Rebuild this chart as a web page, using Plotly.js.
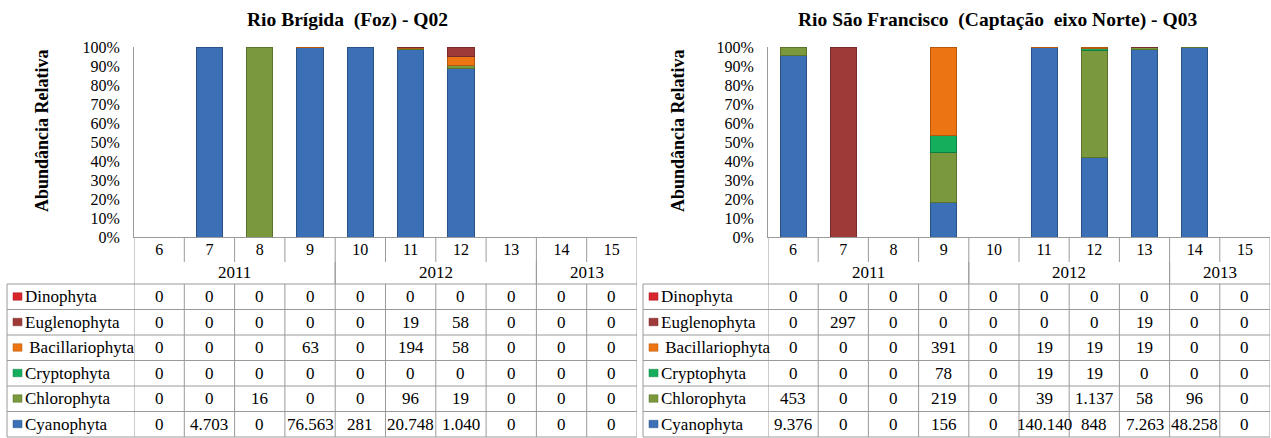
<!DOCTYPE html>
<html>
<head>
<meta charset="utf-8">
<script src="https://cdn.plot.ly/plotly-3.0.1.min.js"></script>
<style>
html,body{margin:0;padding:0;background:#fff;}
#chart{width:1271px;height:438px;}
</style>
</head>
<body>
<div id="chart"></div>
<script>
// ---------- DATA ----------
const categories = [6, 7, 8, 9, 10, 11, 12, 13, 14, 15];
const years = ['2011', '2012', '2013'];
const yearFirst = [6, 10, 14];
const yearLast = [9, 13, 15];

const groups = ['Dinophyta', 'Euglenophyta', 'Bacillariophyta', 'Cryptophyta', 'Chlorophyta', 'Cyanophyta'];

const titleQ02 = 'Rio Brígida  (Foz) - Q02';
const titleQ03 = 'Rio São Francisco  (Captação  eixo Norte) - Q03';
const yTitle = 'Abundância Relativa';

// Rio Brígida (Foz) - Q02
const q02Dinophyta       = [0, 0, 0, 0, 0, 0, 0, 0, 0, 0];
const q02Euglenophyta    = [0, 0, 0, 0, 0, 19, 58, 0, 0, 0];
const q02Bacillariophyta = [0, 0, 0, 63, 0, 194, 58, 0, 0, 0];
const q02Cryptophyta     = [0, 0, 0, 0, 0, 0, 0, 0, 0, 0];
const q02Chlorophyta     = [0, 0, 16, 0, 0, 96, 19, 0, 0, 0];
const q02Cyanophyta      = [0, 4703, 0, 76563, 281, 20748, 1040, 0, 0, 0];

// Rio São Francisco (Captação eixo Norte) - Q03
const q03Dinophyta       = [0, 0, 0, 0, 0, 0, 0, 0, 0, 0];
const q03Euglenophyta    = [0, 297, 0, 0, 0, 0, 0, 19, 0, 0];
const q03Bacillariophyta = [0, 0, 0, 391, 0, 19, 19, 19, 0, 0];
const q03Cryptophyta     = [0, 0, 0, 78, 0, 19, 19, 0, 0, 0];
const q03Chlorophyta     = [453, 0, 0, 219, 0, 39, 1137, 58, 96, 0];
const q03Cyanophyta      = [9376, 0, 0, 156, 0, 140140, 848, 7263, 48258, 0];

// ---------- STYLE ----------
const colors = {
  Dinophyta: '#D8262C',
  Euglenophyta: '#9E3B39',
  Bacillariophyta: '#EC7412',
  Cryptophyta: '#14AE5C',
  Chlorophyta: '#7A983C',
  Cyanophyta: '#3B70B6'
};
const edge = {
  Dinophyta: '#A51C21',
  Euglenophyta: '#752B2A',
  Bacillariophyta: '#B4580D',
  Cryptophyta: '#0E7F44',
  Chlorophyta: '#5B722C',
  Cyanophyta: '#2A5287'
};
const SERIF = '"Liberation Serif", "Times New Roman", serif';
const W = 1271, H = 438;
const LINE = '#9A9A9A';
function X(px) { return px / W; }
function Y(py) { return 1 - py / H; }

function fmt(v) {
  const s = String(Math.round(v));
  return s.replace(/\B(?=(\d{3})+(?!\d))/g, '.');
}

const panels = [
  {
    title: titleQ02, titleX: 347,
    xa: 'x', ya: 'y', axLeft: 134, axRight: 637, tableLeft: 7,
    data: {
      Dinophyta: q02Dinophyta, Euglenophyta: q02Euglenophyta, Bacillariophyta: q02Bacillariophyta,
      Cryptophyta: q02Cryptophyta, Chlorophyta: q02Chlorophyta, Cyanophyta: q02Cyanophyta
    }
  },
  {
    title: titleQ03, titleX: 998,
    xa: 'x2', ya: 'y2', axLeft: 768, axRight: 1270, tableLeft: 643,
    data: {
      Dinophyta: q03Dinophyta, Euglenophyta: q03Euglenophyta, Bacillariophyta: q03Bacillariophyta,
      Cryptophyta: q03Cryptophyta, Chlorophyta: q03Chlorophyta, Cyanophyta: q03Cyanophyta
    }
  }
];

const stackOrder = ['Cyanophyta', 'Chlorophyta', 'Cryptophyta', 'Bacillariophyta', 'Euglenophyta', 'Dinophyta'];

const Y_TOP = 47, Y_AX = 237.5, Y_CAT = 262, Y_HEAD = 284, ROW_H = 25.5;
const NROWS = groups.length;
const Y_BOT = Y_HEAD + ROW_H * NROWS;

const traces = [];
const shapes = [];
const annotations = [];

function fnt(size) { return { family: SERIF, size: size, color: '#000' }; }

const layout = {
  width: W, height: H,
  margin: { l: 0, r: 0, t: 0, b: 0 },
  paper_bgcolor: '#fff', plot_bgcolor: 'rgba(0,0,0,0)',
  barmode: 'stack', barnorm: 'percent',
  showlegend: false,
  font: fnt(16),
  shapes: shapes, annotations: annotations
};

panels.forEach(function (p, pi) {
  const xName = pi === 0 ? 'xaxis' : 'xaxis2';
  const yName = pi === 0 ? 'yaxis' : 'yaxis2';
  layout[xName] = {
    domain: [X(p.axLeft), X(p.axRight)], range: [5.5, 15.5],
    anchor: p.ya, tickvals: categories, ticktext: categories.map(String),
    showline: false, showgrid: false, zeroline: false, ticks: '',
    tickfont: fnt(16), ticklabelstandoff: 0
  };
  layout[yName] = {
    domain: [Y(Y_AX), Y(Y_TOP)], range: [0, 100], anchor: p.xa,
    dtick: 10, ticksuffix: '%', showgrid: false, zeroline: false,
    showline: true, linecolor: LINE, linewidth: 1, ticks: '',
    tickfont: fnt(16), ticklabelstandoff: 10
  };

  stackOrder.forEach(function (g) {
    traces.push({
      type: 'bar', name: g, x: categories,
      y: p.data[g].map(function (v) { return v === 0 ? null : v; }),
      xaxis: p.xa, yaxis: p.ya, width: 0.52,
      marker: { color: colors[g], line: { width: 1, color: edge[g] } }
    });
  });

  annotations.push({
    xref: 'paper', yref: 'paper', x: X(p.titleX), y: Y(20), xanchor: 'center', yanchor: 'middle',
    text: '<b>' + p.title + '</b>', showarrow: false, font: fnt(19.5)
  });
  annotations.push({
    xref: 'paper', yref: 'paper', x: X(p.tableLeft + 35), y: Y(131), xanchor: 'center', yanchor: 'middle',
    text: '<b>' + yTitle + '</b>', textangle: -90, showarrow: false, font: fnt(18)
  });

  const xr = p.xa;
  function ln(xref, x0, x1, y0, y1) {
    shapes.push({ type: 'line', xref: xref, yref: 'paper', x0: x0, x1: x1, y0: Y(y0), y1: Y(y1), line: { color: LINE, width: 1 } });
  }
  ln(xr, 5.5, 15.5, Y_AX, Y_AX);
  for (let i = 0; i <= categories.length; i++) {
    ln(xr, categories[0] - 0.5 + i, categories[0] - 0.5 + i, Y_AX, Y_CAT);
  }
  yearFirst.forEach(function (f, k) {
    ln(xr, f - 0.5, f - 0.5, Y_CAT, Y_HEAD);
    ln(xr, yearLast[k] + 0.5, yearLast[k] + 0.5, Y_CAT, Y_HEAD);
    annotations.push({
      xref: xr, yref: 'paper', x: (f + yearLast[k]) / 2, y: Y(272), xanchor: 'center', yanchor: 'middle',
      text: years[k], showarrow: false, font: fnt(17)
    });
  });
  for (let r = 0; r <= NROWS; r++) {
    ln('paper', X(p.tableLeft), X(p.axRight), Y_HEAD + r * ROW_H, Y_HEAD + r * ROW_H);
  }
  ln('paper', X(p.tableLeft), X(p.tableLeft), Y_HEAD, Y_BOT);
  for (let i = 0; i <= categories.length; i++) {
    ln(xr, categories[0] - 0.5 + i, categories[0] - 0.5 + i, Y_HEAD, Y_BOT);
  }

  groups.forEach(function (g, r) {
    const yc = Y_HEAD + ROW_H * (r + 0.5);
    shapes.push({
      type: 'rect', xref: 'paper', yref: 'paper',
      x0: X(p.tableLeft + 6), x1: X(p.tableLeft + 15), y0: Y(yc + 3.5), y1: Y(yc - 4),
      fillcolor: colors[g], line: { color: edge[g], width: 0.5 }
    });
    annotations.push({
      xref: 'paper', yref: 'paper', x: X(p.tableLeft + 16), y: Y(yc), xanchor: 'left', yanchor: 'middle',
      text: (g === 'Bacillariophyta' ? ' ' : '') + g, showarrow: false, font: fnt(17)
    });
    p.data[g].forEach(function (v, i) {
      annotations.push({
        xref: xr, yref: 'paper', x: categories[i], y: Y(yc), xanchor: 'center', yanchor: 'middle',
        text: fmt(v), showarrow: false, font: fnt(17)
      });
    });
  });
});

Plotly.newPlot('chart', traces, layout, { staticPlot: true, displayModeBar: false });
</script>
</body>
</html>
